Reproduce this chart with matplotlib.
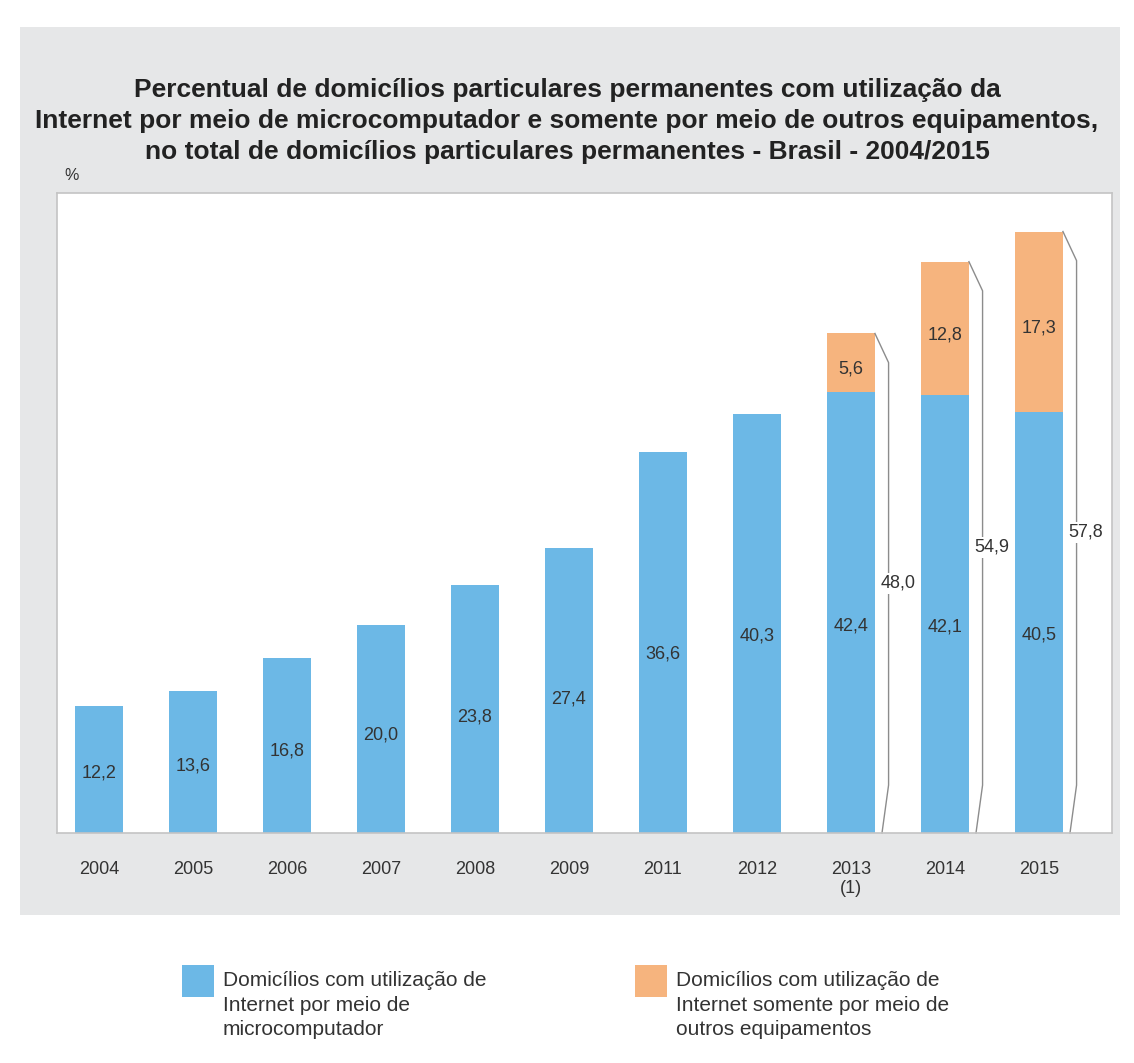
import matplotlib
matplotlib.use('Agg')
import matplotlib.pyplot as plt
from matplotlib.patches import Rectangle

years = ['2004', '2005', '2006', '2007', '2008', '2009', '2011', '2012', '2013\n(1)', '2014', '2015']
micro = [12.2, 13.6, 16.8, 20.0, 23.8, 27.4, 36.6, 40.3, 42.4, 42.1, 40.5]
outros = [0, 0, 0, 0, 0, 0, 0, 0, 5.6, 12.8, 17.3]
totais = [None, None, None, None, None, None, None, None, 48.0, 54.9, 57.8]
micro_labels = ['12,2', '13,6', '16,8', '20,0', '23,8', '27,4', '36,6', '40,3', '42,4', '42,1', '40,5']
outros_labels = ['', '', '', '', '', '', '', '', '5,6', '12,8', '17,3']
total_labels = ['', '', '', '', '', '', '', '', '48,0', '54,9', '57,8']
legend_labels = ['Domicílios com utilização de\nInternet por meio de\nmicrocomputador',
                 'Domicílios com utilização de\nInternet somente por meio de\noutros equipamentos']

blue = '#6cb8e6'
orange = '#f6b47e'
txt = '#333333'
plt.rcParams['font.family'] = ['Liberation Sans', 'DejaVu Sans']

fig = plt.figure(figsize=(11.34, 10.63), dpi=100)
W, H = 1134., 1063.

# gray panel behind chart
fig.patches.append(Rectangle((20/W, 1-915/H), 1100/W, 888/H, transform=fig.transFigure,
                             facecolor='#e6e7e8', edgecolor='none', zorder=-5))

ax = fig.add_axes([57/W, 1-833/H, (1112-57)/W, (833-193)/H])
ax.set_zorder(1)
ax.set_facecolor('white')
for s in ax.spines.values():
    s.set_color('#c4c4c4')
    s.set_linewidth(1.2)

x = list(range(len(years)))
w = 0.51
ax.bar(x, micro, width=w, color=blue, zorder=2)
ax.bar(x, outros, width=w, bottom=micro, color=orange, zorder=2)

for i in x:
    ax.text(i, micro[i]*0.47, micro_labels[i], ha='center', va='center', fontsize=13, color=txt, zorder=3)
    if outros[i] > 0:
        ax.text(i, micro[i] + outros[i]/2 - 0.6, outros_labels[i], ha='center', va='center',
                fontsize=13, color=txt, zorder=3)
    if totais[i] is not None:
        t = totais[i]
        bx = [i + w/2, i + 0.40, i + 0.40, i + 0.33]
        by = [t, t - 2.8, 4.6, 0]
        ax.plot(bx, by, color='#8c8c8c', lw=1.0, zorder=2, clip_on=False)
        ax.text(i + 0.5, t/2, total_labels[i], ha='center', va='center', fontsize=13, color=txt,
                zorder=4, bbox=dict(facecolor='white', edgecolor='none', pad=1.5))

ax.set_xlim(-0.447, 10.777)
ax.set_ylim(0, 61.5)
ax.set_yticks([])
ax.set_xticks(x)
ax.set_xticklabels(years, fontsize=13, color=txt, linespacing=1.2)
ax.tick_params(axis='x', length=0, pad=20)

fig.text(0.5, 1-121/H,
         'Percentual de domicílios particulares permanentes com utilização da\n'
         'Internet por meio de microcomputador e somente por meio de outros equipamentos,\n'
         'no total de domicílios particulares permanentes - Brasil - 2004/2015',
         ha='center', va='center', fontsize=19, fontweight='bold', color='#222222',
         linespacing=1.38)
fig.text(64/W, 1-176/H, '%', ha='left', va='center', fontsize=11.5, color=txt)

# legend
for k, (lx, col) in enumerate([(182, blue), (635, orange)]):
    fig.patches.append(Rectangle((lx/W, 1-997/H), 32/W, 32/H, transform=fig.transFigure,
                                 facecolor=col, edgecolor='none'))
    fig.text((lx+41)/W, 1-971/H, legend_labels[k], ha='left', va='top', fontsize=15,
             color=txt, linespacing=1.38)

fig.savefig('out.png', dpi=100)
